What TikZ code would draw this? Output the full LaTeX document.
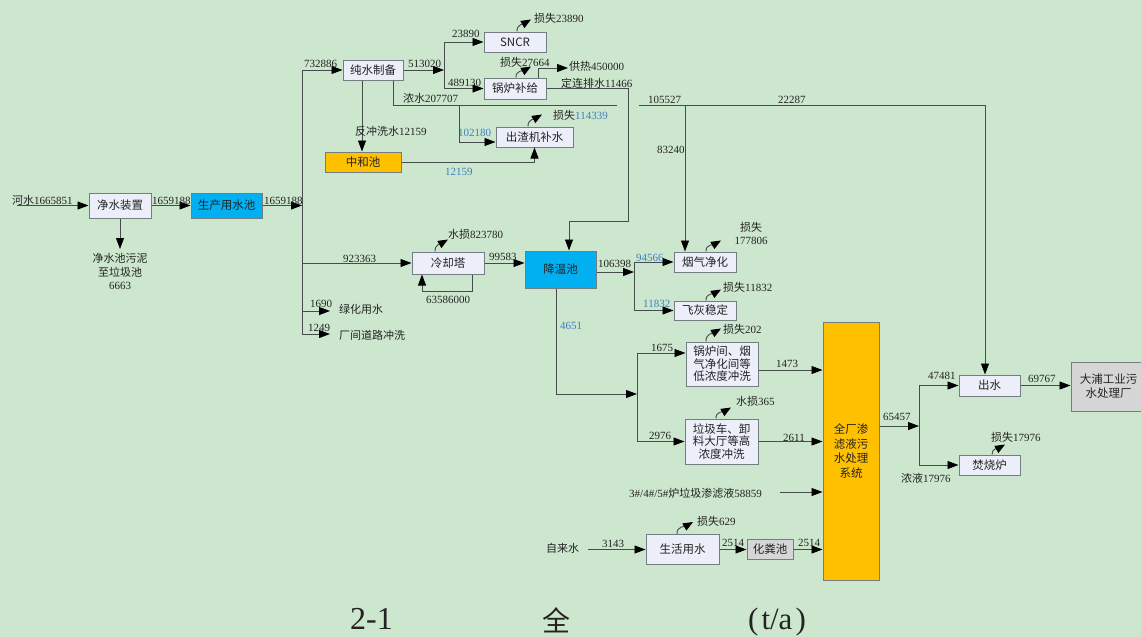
\documentclass[tikz,border=0pt]{standalone}
\usepackage{fontspec}
\setmainfont{Liberation Serif}
\newfontfamily\cjk{Noto Sans CJK SC}
\usetikzlibrary{arrows.meta,calc}
\definecolor{bg}{RGB}{205,231,206}
\definecolor{boxfill}{RGB}{236,239,250}
\definecolor{boxline}{RGB}{115,125,130}
\definecolor{cyanf}{RGB}{0,176,240}
\definecolor{orangef}{RGB}{255,192,0}
\definecolor{grayf}{RGB}{214,214,214}
\definecolor{linec}{RGB}{70,75,75}
\definecolor{txt}{RGB}{35,35,35}
\definecolor{numblue}{RGB}{60,128,190}
\newcommand\zhs[1]{{\cjk #1}}
\newcommand\bl[1]{\textcolor{numblue}{#1}}
\tikzset{
  box/.style={draw=boxline, line width=1pt, fill=boxfill, inner sep=0pt, align=center,
    font=\cjk\fontsize{11.5}{13.5}\selectfont, text=txt},
  lab/.style={inner sep=0pt, anchor=base west, font=\fontsize{11}{13}\selectfont, text=txt},
  ln/.style={draw=linec, line width=0.9pt},
  arr/.style={ln, -{Triangle[length=11pt,width=8pt,color=black]}},
  loss/.style={ln, -{Triangle[length=10pt,width=8pt,color=black]}}
}
\begin{document}
\begin{tikzpicture}[x=1pt,y=-1pt]
\fill[bg] (0,0) rectangle (1141,637);
\useasboundingbox (0,0) rectangle (1141,637);

% boxes
\node[box, minimum width=62pt, minimum height=25pt] (jsz) at (120,205.5) {净水装置};
\node[box, fill=cyanf, minimum width=71pt, minimum height=25pt] (scs) at (226.5,205.5) {生产用水池};
\node[box, minimum width=60pt, minimum height=20pt] (csz) at (373,70) {纯水制备};
\node[box, minimum width=62pt, minimum height=20pt] (sncr) at (515,42) {SNCR};
\node[box, minimum width=62pt, minimum height=21pt] (glbj) at (515,88.5) {锅炉补给};
\node[box, fill=orangef, minimum width=76pt, minimum height=20pt] (zhc) at (363,162) {中和池};
\node[box, minimum width=77pt, minimum height=20pt] (czj) at (534.5,137) {出渣机补水};
\node[box, minimum width=72pt, minimum height=22pt] (lqt) at (448,263) {冷却塔};
\node[box, fill=cyanf, minimum width=71pt, minimum height=37pt] (jwc) at (560.5,269.5) {降温池};
\node[box, minimum width=62pt, minimum height=20pt] (yqjh) at (705,262) {烟气净化};
\node[box, minimum width=62pt, minimum height=19pt] (fhwd) at (705,310.5) {飞灰稳定};
\node[box, minimum width=72pt, minimum height=44pt, font=\cjk\fontsize{11.5}{12.6}\selectfont] (glj) at (722,364) {锅炉间、烟\\气净化间等\\低浓度冲洗};
\node[box, minimum width=73pt, minimum height=45pt, font=\cjk\fontsize{11.5}{12.6}\selectfont] (ljc) at (721.5,441.5) {垃圾车、卸\\料大厅等高\\浓度冲洗};
\node[box, fill=orangef, minimum width=56pt, minimum height=258pt, font=\cjk\fontsize{11.5}{14.4}\selectfont] (qc) at (851,451) {全厂渗\\滤液污\\水处理\\系统};
\node[box, minimum width=73pt, minimum height=30pt] (shys) at (682.5,549.5) {生活用水};
\node[box, fill=grayf, minimum width=46pt, minimum height=20pt] (hfc) at (770,549.5) {化粪池};
\node[box, minimum width=61pt, minimum height=21pt] (cs) at (989.5,385.5) {出水};
\node[box, minimum width=61pt, minimum height=20pt] (fsl) at (989.5,465) {焚烧炉};
\node[box, fill=grayf, minimum width=75pt, minimum height=49pt, font=\cjk\fontsize{11.5}{14}\selectfont] (dp) at (1108.5,386.5) {大浦工业污\\水处理厂};

% coordinates
\coordinate (river) at (17,205.5);
\coordinate (jm) at (302,205.5);
\coordinate (vtop) at (302,70);
\coordinate (vbot) at (302,334);
\coordinate (sl) at (120,249);
\coordinate (j513) at (444,70);
\coordinate (heat) at (568,68);
\coordinate (heatS) at ([xshift=23pt]glbj.north);
\coordinate (dl) at (628,221);
\coordinate (jwcIn) at ([xshift=8.5pt]jwc.north);
\coordinate (nsS) at ([xshift=20pt]csz.south);
\coordinate (nsA) at (617,105.5);
\coordinate (nsB) at (639,105.5);
\coordinate (csIn) at ([xshift=-4.5pt]cs.north);
\coordinate (j102) at (459,105.5);
\coordinate (czjIn) at ([yshift=-5pt]czj.west);
\coordinate (j832) at (685,105.5);
\coordinate (bw) at ([xshift=-11pt]csz.south);
\coordinate (j923) at (302,263);
\coordinate (rcA) at ([xshift=24pt]lqt.south);
\coordinate (rcB) at ([xshift=-26pt]lqt.south);
\coordinate (j106) at (634,272);
\coordinate (j465) at (637,394);
\coordinate (w465) at ([xshift=-4.5pt]jwc.south);
\coordinate (gljIn) at ([yshift=11pt]glj.west);
\coordinate (g1) at ([yshift=-6pt]glj.east);
\coordinate (l58) at (780,492);
\coordinate (tap) at (588,549.5);
\coordinate (j654) at (919,426);
\coordinate (qo) at ([yshift=25pt]qc.east);
\coordinate (j169) at (302,311);
\coordinate (e169) at (330,311);
\coordinate (e124) at (330,334);

% connectors
\draw[arr] (river) -- (jsz.west);
\draw[arr] (jsz.east) -- (scs.west);
\draw[arr] (scs.east) -- (jm);
\draw[ln] (vtop) -- (vbot);
\draw[arr] (vtop) -- (csz.west);
\draw[arr] (jsz.south) -- (sl);
\draw[arr] (csz.east) -- (j513);
\draw[arr] (j513) |- (sncr.west);
\draw[arr] (j513) |- (glbj.west);
\draw[arr] (heatS) |- (heat);
\draw[arr] (glbj.east) -| (dl) -| (jwcIn);
\draw[ln] (nsS) |- (nsA);
\draw[arr] (nsB) -| (csIn);
\draw[arr] (j102) |- (czjIn);
\draw[arr] (j832) -- (j832 |- yqjh.north);
\draw[arr] (bw) -- (bw |- zhc.north);
\draw[arr] (zhc.east) -| (czj.south);
\draw[arr] (j923) -- (lqt.west);
\draw[arr] (rcA) -- ++(0,17) -| (rcB);
\draw[arr] (lqt.east) -- (lqt.east -| jwc.west);
\draw[arr] (jwc.east |- j106) -- (j106);
\draw[arr] (j106) |- (yqjh.west);
\draw[arr] (j106) |- (fhwd.west);
\draw[arr] (w465) |- (j465);
\draw[arr] (j465) |- (gljIn);
\draw[arr] (j465) |- (ljc.west);
\draw[arr] (g1) -- (g1 -| qc.west);
\draw[arr] (ljc.east) -- (ljc.east -| qc.west);
\draw[arr] (l58) -- (l58 -| qc.west);
\draw[arr] (tap) -- (shys.west);
\draw[arr] (shys.east) -- (hfc.west);
\draw[arr] (hfc.east) -- (hfc.east -| qc.west);
\draw[arr] (qo) -- (j654);
\draw[arr] (j654) |- (cs.west);
\draw[arr] (j654) |- (fsl.west);
\draw[arr] (cs.east) -- (cs.east -| dp.west);
\draw[arr] (j169) -- (e169);
\draw[arr] (vbot) -- (e124);

% loss arrows
\draw[loss] ([xshift=2pt]sncr.north) to[out=95,in=210] ++(14,-12);
\draw[loss] ([xshift=1pt]glbj.north) to[out=95,in=210] ++(15,-11);
\draw[loss] ([xshift=-6.5pt]czj.north) to[out=95,in=210] ++(14,-12);
\draw[loss] ([xshift=-13pt]lqt.north) to[out=95,in=210] ++(13,-12);
\draw[loss] ([xshift=1pt]yqjh.north) to[out=95,in=210] ++(15,-11);
\draw[loss] ([xshift=1pt]fhwd.north) to[out=95,in=210] ++(15,-11);
\draw[loss] ([xshift=-16pt]glj.north) to[out=95,in=210] ++(15,-13);
\draw[loss] ([xshift=-5.5pt]ljc.north) to[out=95,in=210] ++(15,-11);
\draw[loss] ([xshift=-5.5pt]shys.north) to[out=95,in=210] ++(16,-12);
\draw[loss] ([xshift=2.5pt]fsl.north) to[out=95,in=210] ++(13,-10);

% labels
\node[lab] (t0) at (12,204) {\zhs{河水}1665851};
\node[lab] (t1) at (152,204) {1659188};
\node[lab] (t2) at (264,204) {1659188};
\node[lab] (t3) at (304,67) {732886};
\node[lab] (t4) at (408,67) {513020};
\node[lab] (t5) at (452,37) {23890};
\node[lab] (t6) at (448,86) {489130};
\node[lab] (t7) at (534,22) {\zhs{损失}23890};
\node[lab] (t8) at (500,66) {\zhs{损失}27664};
\node[lab] (t9) at (569,70) {\zhs{供热}450000};
\node[lab] (t10) at (561,87) {\zhs{定连排水}11466};
\node[lab] (t11) at (403,102) {\zhs{浓水}207707};
\node[lab] (t12) at (458,136) {\bl{102180}};
\node[lab] (t13) at (355,135) {\zhs{反冲洗水}12159};
\node[lab] (t14) at (445,175) {\bl{12159}};
\node[lab] (t15) at (553,119) {\zhs{损失}\bl{114339}};
\node[lab] (t16) at (648,103) {105527};
\node[lab] (t17) at (778,103) {22287};
\node[lab] (t18) at (657,153) {83240};
\node[lab] (t19) at (343,262) {923363};
\node[lab] (t20) at (448,238) {\zhs{水损}823780};
\node[lab] (t21) at (426,303) {63586000};
\node[lab] (t22) at (489,260) {99583};
\node[lab] (t23) at (598,267) {106398};
\node[lab] (t24) at (636,261) {\bl{94566}};
\node[lab] (t25) at (643,307) {\bl{11832}};
\node[inner sep=0pt, align=center, font=\fontsize{11}{13}\selectfont, text=txt] (t26) at (751,233.5) {\zhs{损失}\\177806};
\node[lab] (t27) at (723,291) {\zhs{损失}11832};
\node[lab] (t28) at (560,329) {\bl{4651}};
\node[lab] (t29) at (310,307) {1690};
\node[lab] (t30) at (339,313) {\zhs{绿化用水}};
\node[lab] (t31) at (308,331) {1249};
\node[lab] (t32) at (339,339) {\zhs{厂间道路冲洗}};
\node[lab] (t33) at (651,351) {1675};
\node[lab] (t34) at (649,439) {2976};
\node[lab] (t35) at (723,333) {\zhs{损失}202};
\node[lab] (t36) at (736,405) {\zhs{水损}365};
\node[lab] (t37) at (776,367) {1473};
\node[lab] (t38) at (783,441) {2611};
\node[lab] (t39) at (629,497) {3\#/4\#/5\#\zhs{炉垃圾渗滤液}58859};
\node[lab] (t40) at (546,552) {\zhs{自来水}};
\node[lab] (t41) at (602,547) {3143};
\node[lab] (t42) at (697,525) {\zhs{损失}629};
\node[lab] (t43) at (722,546) {2514};
\node[lab] (t44) at (798,546) {2514};
\node[lab] (t45) at (883,420) {65457};
\node[lab] (t46) at (928,379) {47481};
\node[lab] (t47) at (901,482) {\zhs{浓液}17976};
\node[lab] (t48) at (991,441) {\zhs{损失}17976};
\node[lab] (t49) at (1028,382) {69767};
\node[inner sep=0pt, align=center, font=\fontsize{11}{13.5}\selectfont, text=txt] (sludge) at (120,271.5) {\zhs{净水池污泥}\\\zhs{至垃圾池}\\6663};

% caption
\node[inner sep=0pt, anchor=base west, font=\fontsize{32}{36}\selectfont, text=txt] (c1) at (350,629) {2-1};
\node[inner sep=0pt, font=\cjk\fontsize{28}{30}\selectfont, text=txt] (c2) at (556.5,620) {全};
\node[inner sep=0pt, anchor=base west, font=\fontsize{31}{36}\selectfont, text=txt] (c3) at (748,629) {(\kern3pt t/a\kern3pt)};
\end{tikzpicture}
\end{document}
